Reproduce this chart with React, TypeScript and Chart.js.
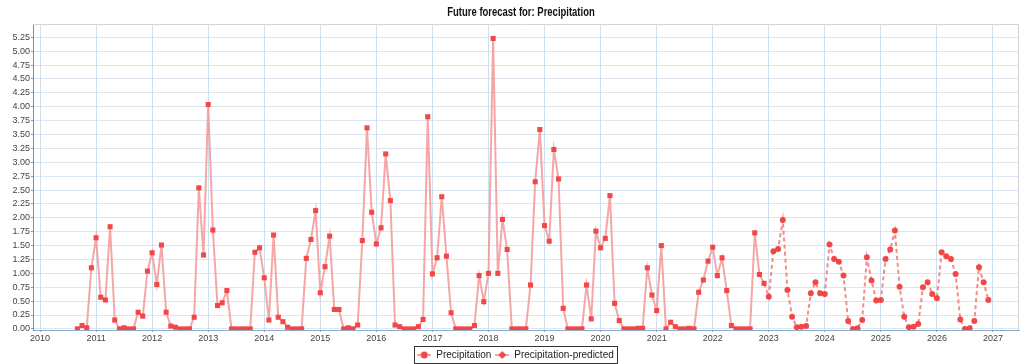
import React, { useEffect, useRef } from "react";
import { Chart, registerables } from "chart.js";

Chart.register(...registerables);

const chartTitle = "Future forecast for: Precipitation";
const actualLabel = "Precipitation";
const predictedLabel = "Precipitation-predicted";

// monthly series, first value = Sep 2010
const actualStartYear = 2010;
const actualStartMonth = 9;
const actualValues = [
  // 2010 Sep-Dec
  0.0, 0.06, 0.02, 1.1,
  // 2011
  1.64, 0.57, 0.52, 1.84, 0.16, 0.0, 0.02, 0.0, 0.0, 0.3, 0.23, 1.04,
  // 2012
  1.37, 0.8, 1.51, 0.3, 0.05, 0.03, 0.0, 0.0, 0.0, 0.21, 2.54, 1.33,
  // 2013
  4.04, 1.78, 0.42, 0.47, 0.69, 0.0, 0.0, 0.0, 0.0, 0.0, 1.38, 1.46,
  // 2014
  0.92, 0.16, 1.69, 0.21, 0.13, 0.03, 0.0, 0.0, 0.0, 1.27, 1.61, 2.13,
  // 2015
  0.65, 1.12, 1.67, 0.35, 0.35, 0.0, 0.02, 0.0, 0.07, 1.59, 3.62, 2.1,
  // 2016
  1.53, 1.82, 3.15, 2.31, 0.07, 0.04, 0.0, 0.0, 0.0, 0.04, 0.17, 3.82,
  // 2017
  0.99, 1.28, 2.38, 1.31, 0.29, 0.0, 0.0, 0.0, 0.0, 0.06, 0.96, 0.49,
  // 2018
  1.0, 5.23, 1.0, 1.97, 1.43, 0.0, 0.0, 0.0, 0.0, 0.79, 2.65, 3.59,
  // 2019
  1.86, 1.58, 3.23, 2.7, 0.37, 0.0, 0.0, 0.0, 0.0, 0.79, 0.18, 1.76,
  // 2020
  1.46, 1.63, 2.4, 0.46, 0.15, 0.0, 0.0, 0.0, 0.01, 0.01, 1.1, 0.61,
  // 2021
  0.33, 1.5, 0.0, 0.12, 0.04, 0.0, 0.0, 0.01, 0.0, 0.66, 0.88, 1.22,
  // 2022
  1.47, 0.96, 1.28, 0.69, 0.06, 0.0, 0.0, 0.0, 0.0, 1.73, 0.98, 0.82,
];

// predicted series, first value = Dec 2022 (joins the observed series)
const predictedStartYear = 2022;
const predictedStartMonth = 12;
const predictedValues = [
  0.82,
  // 2023
  0.58, 1.4, 1.44, 1.96, 0.7, 0.22, 0.03, 0.04, 0.05, 0.64, 0.84, 0.64,
  // 2024
  0.63, 1.52, 1.26, 1.21, 0.96, 0.14, 0.0, 0.01, 0.16, 1.29, 0.87, 0.51,
  // 2025
  0.52, 1.26, 1.43, 1.77, 0.76, 0.22, 0.03, 0.04, 0.09, 0.75, 0.84, 0.63,
  // 2026
  0.55, 1.38, 1.31, 1.26, 0.99, 0.17, 0.0, 0.01, 0.14, 1.11, 0.84, 0.52,
];

const yTickValues = [
  0, 0.25, 0.5, 0.75, 1, 1.25, 1.5, 1.75, 2, 2.25, 2.5, 2.75, 3, 3.25, 3.5,
  3.75, 4, 4.25, 4.5, 4.75, 5, 5.25,
];
const xTickYears = [
  2010, 2011, 2012, 2013, 2014, 2015, 2016, 2017, 2018, 2019, 2020, 2021,
  2022, 2023, 2024, 2025, 2026, 2027,
];

const toPoints = (startYear: number, startMonth: number, values: number[]) =>
  values.map((v, i) => ({ x: startYear + (startMonth - 1 + i) / 12, y: v }));

const MARKER = "rgba(240,64,64,0.95)";
const LINE_ACTUAL = "rgba(244,150,150,0.85)";
const LINE_PRED = "rgba(242,110,110,0.8)";

function legendIcon(kind: "rect" | "diamond"): HTMLCanvasElement {
  const c = document.createElement("canvas");
  c.width = 14;
  c.height = 8;
  const g = c.getContext("2d")!;
  g.strokeStyle = LINE_ACTUAL;
  g.lineWidth = 2;
  g.beginPath();
  g.moveTo(0, 4);
  g.lineTo(14, 4);
  g.stroke();
  g.fillStyle = MARKER;
  g.beginPath();
  if (kind === "rect") {
    g.arc(7, 4, 3.5, 0, Math.PI * 2);
  } else {
    g.moveTo(7, 0);
    g.lineTo(11, 4);
    g.lineTo(7, 8);
    g.lineTo(3, 4);
    g.closePath();
  }
  g.fill();
  return c;
}

const tickFont = { family: "'Liberation Sans', Arial, sans-serif", size: 9 };

const frame = {
  id: "frame",
  beforeDatasetsDraw(chart: any) {
    const { ctx, chartArea } = chart;
    ctx.save();
    ctx.strokeStyle = "#d4d4d4";
    ctx.lineWidth = 1;
    ctx.beginPath();
    ctx.moveTo(chartArea.left, chartArea.top + 0.5);
    ctx.lineTo(chartArea.right - 0.5, chartArea.top + 0.5);
    ctx.lineTo(chartArea.right - 0.5, chartArea.bottom);
    ctx.stroke();
    ctx.restore();
  },
  afterDraw(chart: any) {
    const ctx = chart.ctx;
    // condensed bold title
    ctx.save();
    ctx.fillStyle = "#111";
    ctx.font = "bold 12px 'Liberation Sans', Arial, sans-serif";
    ctx.textAlign = "center";
    ctx.textBaseline = "middle";
    ctx.translate(521, 13);
    ctx.scale(0.79, 1);
    ctx.fillText(chartTitle, 0, 0);
    ctx.restore();

    const lg = chart.legend;
    if (!lg || !lg.legendHitBoxes || !lg.legendHitBoxes.length) return;
    const boxes = lg.legendHitBoxes;
    let l = Infinity, r = -Infinity, t = Infinity, b = -Infinity;
    boxes.forEach((h: any) => {
      l = Math.min(l, h.left);
      r = Math.max(r, h.left + h.width);
      t = Math.min(t, h.top);
      b = Math.max(b, h.top + h.height);
    });
    ctx.save();
    ctx.strokeStyle = "#333";
    ctx.lineWidth = 1;
    ctx.strokeRect(Math.round(l - 3) + 0.5, Math.round(t - 4) + 0.5, Math.round(r - l + 6), Math.round(b - t + 7));
    ctx.restore();
  },
};

export default function App() {
  const ref = useRef<HTMLCanvasElement | null>(null);

  useEffect(() => {
    document.body.style.margin = "0";
    document.body.style.overflow = "hidden";
    const canvas = ref.current!;
    const chart = new Chart(canvas, {
      type: "line",
      data: {
        datasets: [
          {
            label: actualLabel,
            data: toPoints(actualStartYear, actualStartMonth, actualValues),
            borderColor: LINE_ACTUAL,
            backgroundColor: MARKER,
            borderWidth: 2,
            pointStyle: "rect",
            pointRadius: 3.6,
            pointBorderWidth: 0,
            pointBackgroundColor: MARKER,
            tension: 0,
            fill: false,
          },
          {
            label: predictedLabel,
            data: toPoints(predictedStartYear, predictedStartMonth, predictedValues),
            borderColor: LINE_PRED,
            backgroundColor: MARKER,
            borderWidth: 2,
            borderDash: [4, 3],
            pointStyle: "circle",
            pointRadius: (c: any) => (c.dataIndex === 0 ? 0 : 3),
            pointBorderWidth: 0,
            pointBackgroundColor: MARKER,
            tension: 0,
            fill: false,
          },
        ],
      },
      options: {
        animation: false,
        responsive: false,
        maintainAspectRatio: false,
        events: [],
        layout: { padding: { left: 12, right: 4, top: 24, bottom: 0 } },
        plugins: {
          title: { display: false },
          legend: {
            position: "bottom",
            maxHeight: 18,
            labels: {
              usePointStyle: true,
              pointStyleWidth: 14,
              boxHeight: 8,
              padding: 4,
              color: "#222",
              font: { family: "'Liberation Sans', Arial, sans-serif", size: 10 },
              generateLabels: () => [
                {
                  text: actualLabel,
                  pointStyle: legendIcon("rect"),
                  fillStyle: MARKER,
                  strokeStyle: MARKER,
                  lineWidth: 0,
                  hidden: false,
                  datasetIndex: 0,
                  fontColor: "#222",
                },
                {
                  text: predictedLabel,
                  pointStyle: legendIcon("diamond"),
                  fillStyle: MARKER,
                  strokeStyle: MARKER,
                  lineWidth: 0,
                  hidden: false,
                  datasetIndex: 1,
                  fontColor: "#222",
                },
              ],
            },
          },
          tooltip: { enabled: false },
        },
        scales: {
          x: {
            type: "linear",
            min: 2009.875,
            max: 2027.464,
            afterBuildTicks: (s: any) => {
              s.ticks = xTickYears.map((v) => ({ value: v }));
            },
            afterFit: (s: any) => {
              s.height = 16;
            },
            ticks: {
              autoSkip: false,
              maxRotation: 0,
              minRotation: 0,
              padding: 1,
              color: "#444",
              font: tickFont,
              callback: (v: any) => String(v),
            },
            grid: {
              color: "rgba(190,212,232,0.75)",
              tickLength: 2,
              tickColor: "#8fb0cc",
            },
            border: { color: "#8fa9c0", width: 1 },
          },
          y: {
            min: -0.02,
            max: 5.49,
            afterBuildTicks: (s: any) => {
              s.ticks = yTickValues.map((v) => ({ value: v }));
            },
            afterFit: (s: any) => {
              s.width = 21;
            },
            ticks: {
              padding: 1,
              color: "#444",
              font: tickFont,
              callback: (v: any) => Number(v).toFixed(2),
            },
            grid: {
              color: "rgba(205,220,235,0.7)",
              tickLength: 2,
              tickColor: "#6f9dc6",
            },
            border: { color: "#5f95c4", width: 1 },
          },
        },
      },
      plugins: [frame],
    } as any);
    return () => chart.destroy();
  }, []);

  return (
    <div style={{ width: 1023, height: 364 }}>
      <canvas ref={ref} width={1023} height={364} style={{ display: "block", width: 1023, height: 364 }} />
    </div>
  );
}
